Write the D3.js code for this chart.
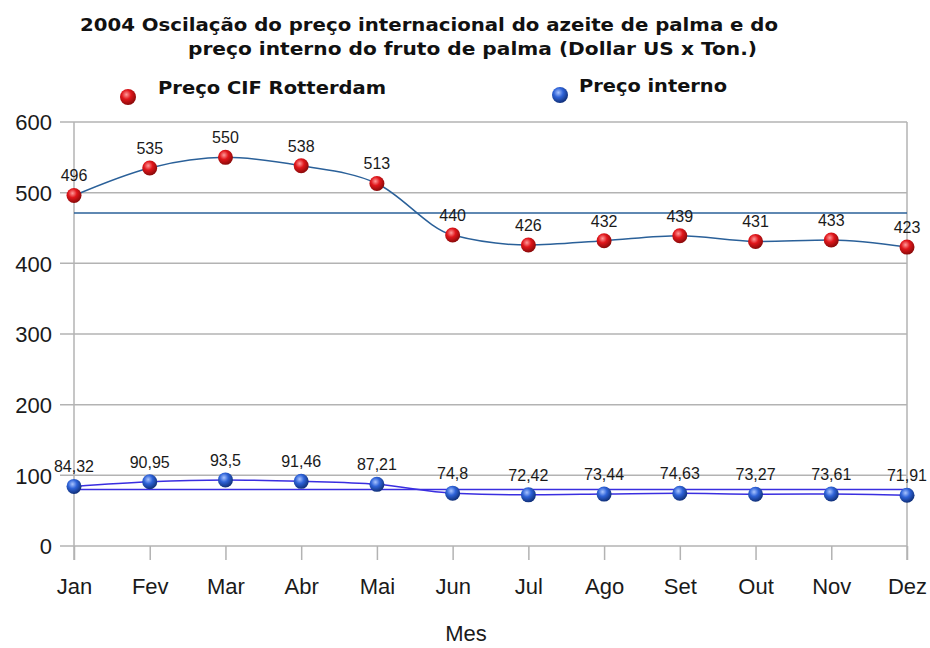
<!DOCTYPE html>
<html>
<head>
<meta charset="utf-8">
<script src="https://cdn.jsdelivr.net/npm/d3@7"></script>
<style>
body { margin: 0; background: #fff; }
svg { display: block; }
.title { font-family: "DejaVu Sans", Verdana, sans-serif; font-weight: bold; font-size: 18px; fill: #111; }
.legend { font-family: "DejaVu Sans", Verdana, sans-serif; font-weight: bold; font-size: 17px; fill: #111; }
.tick text { font-family: "Liberation Sans", Arial, sans-serif; font-size: 22px; fill: #1a1a1a; }
.lbl { font-family: "Liberation Sans", Arial, sans-serif; font-size: 16px; fill: #1a1a1a; }
</style>
</head>
<body>
<div id="chart"></div>
<script>
(function() {

const w = 930;
const h = 648;

const months = ["Jan", "Fev", "Mar", "Abr", "Mai", "Jun", "Jul", "Ago", "Set", "Out", "Nov", "Dez"];
const cifRotterdam = [496, 535, 550, 538, 513, 440, 426, 432, 439, 431, 433, 423];
const precoInterno = [84.32, 90.95, 93.5, 91.46, 87.21, 74.8, 72.42, 73.44, 74.63, 73.27, 73.61, 71.91];
const yTicks = [0, 100, 200, 300, 400, 500, 600];

const svg = d3.select("#chart")
    .append("svg")
    .attr("width", w)
    .attr("height", h);

const defs = svg.append("defs");

function ballGradient(id, light, mid, dark) {
    const g = defs.append("radialGradient")
        .attr("id", id)
        .attr("cx", "40%").attr("cy", "35%").attr("r", "65%");
    g.append("stop").attr("offset", "0%").attr("stop-color", light);
    g.append("stop").attr("offset", "45%").attr("stop-color", mid);
    g.append("stop").attr("offset", "100%").attr("stop-color", dark);
}
ballGradient("redBall", "#ff9a9a", "#e0161b", "#8a0a0a");
ballGradient("blueBall", "#a9c4ff", "#2f63d8", "#10307a");

const x = d3.scalePoint()
    .domain(months)
    .range([74, 907]);

const y = d3.scaleLinear()
    .domain([0, 600])
    .range([546, 122]);

// grid
svg.append("g")
    .selectAll("line")
    .data(yTicks)
    .enter()
    .append("line")
    .attr("x1", 60)
    .attr("x2", 907)
    .attr("y1", function(d) { return y(d); })
    .attr("y2", function(d) { return y(d); })
    .attr("stroke", "#b3b3b3")
    .attr("stroke-width", 1.5);

svg.append("line")
    .attr("x1", 907).attr("x2", 907)
    .attr("y1", y(600)).attr("y2", 560)
    .attr("stroke", "#b3b3b3").attr("stroke-width", 1.5);
svg.append("line")
    .attr("x1", 74).attr("x2", 74)
    .attr("y1", y(600)).attr("y2", 560)
    .attr("stroke", "#b3b3b3").attr("stroke-width", 1.5);

// y axis labels
const yAxis = svg.append("g")
    .attr("transform", "translate(60,0)")
    .call(d3.axisLeft(y).tickValues(yTicks).tickSize(0).tickPadding(8));
yAxis.select(".domain").remove();
yAxis.selectAll(".tick text").attr("dy", "0.36em");

// x axis
const xAxis = svg.append("g")
    .attr("transform", "translate(0,546)")
    .call(d3.axisBottom(x).tickSize(14).tickPadding(18));
xAxis.select(".domain").remove();
xAxis.selectAll(".tick line").attr("stroke", "#b3b3b3").attr("stroke-width", 1.5);

svg.append("text")
    .attr("x", 466)
    .attr("y", 641)
    .attr("text-anchor", "middle")
    .style("font-family", "\"Liberation Sans\", Arial, sans-serif")
    .style("font-size", "22px")
    .style("fill", "#1a1a1a")
    .text("Mes");

// mean lines
const meanRed = d3.mean(cifRotterdam);
const meanBlue = d3.mean(precoInterno);

svg.append("line")
    .attr("x1", 74).attr("x2", 907)
    .attr("y1", y(meanRed)).attr("y2", y(meanRed))
    .attr("stroke", "#2a6099").attr("stroke-width", 1.5);
svg.append("line")
    .attr("x1", 74).attr("x2", 907)
    .attr("y1", y(meanBlue)).attr("y2", y(meanBlue))
    .attr("stroke", "#3a2ee0").attr("stroke-width", 1.5);

// series lines
const line = d3.line()
    .x(function(d, i) { return x(months[i]); })
    .y(function(d) { return y(d); })
    .curve(d3.curveMonotoneX);

svg.append("path")
    .attr("d", line(cifRotterdam))
    .attr("fill", "none")
    .attr("stroke", "#2a6099")
    .attr("stroke-width", 1.5);

svg.append("path")
    .attr("d", line(precoInterno))
    .attr("fill", "none")
    .attr("stroke", "#3a2ee0")
    .attr("stroke-width", 1.5);

// markers
function drawSeries(data, grad) {
    svg.append("g")
        .selectAll("circle")
        .data(data)
        .enter()
        .append("circle")
        .attr("cx", function(d, i) { return x(months[i]); })
        .attr("cy", function(d) { return y(d); })
        .attr("r", 7.5)
        .attr("fill", "url(#" + grad + ")");

    svg.append("g")
        .selectAll("text")
        .data(data)
        .enter()
        .append("text")
        .attr("class", "lbl")
        .attr("x", function(d, i) { return x(months[i]); })
        .attr("y", function(d) { return y(d) - 14; })
        .attr("text-anchor", "middle")
        .text(function(d) { return String(d).replace(".", ","); });
}
drawSeries(cifRotterdam, "redBall");
drawSeries(precoInterno, "blueBall");

// title
svg.append("text")
    .attr("class", "title")
    .attr("x", 80)
    .attr("y", 31)
    .attr("textLength", 698)
    .attr("lengthAdjust", "spacingAndGlyphs")
    .text("2004 Oscilação do preço internacional do azeite de palma e do");
svg.append("text")
    .attr("class", "title")
    .attr("x", 188)
    .attr("y", 55)
    .attr("textLength", 569)
    .attr("lengthAdjust", "spacingAndGlyphs")
    .text("preço interno do fruto de palma (Dollar US x Ton.)");

// legend
svg.append("circle")
    .attr("cx", 128).attr("cy", 97).attr("r", 8)
    .attr("fill", "url(#redBall)");
svg.append("text")
    .attr("class", "legend")
    .attr("x", 158).attr("y", 94)
    .attr("textLength", 228)
    .attr("lengthAdjust", "spacingAndGlyphs")
    .text("Preço CIF Rotterdam");

svg.append("circle")
    .attr("cx", 560).attr("cy", 95).attr("r", 8)
    .attr("fill", "url(#blueBall)");
svg.append("text")
    .attr("class", "legend")
    .attr("x", 579).attr("y", 92)
    .attr("textLength", 148)
    .attr("lengthAdjust", "spacingAndGlyphs")
    .text("Preço interno");

})();
</script>
</body>
</html>
